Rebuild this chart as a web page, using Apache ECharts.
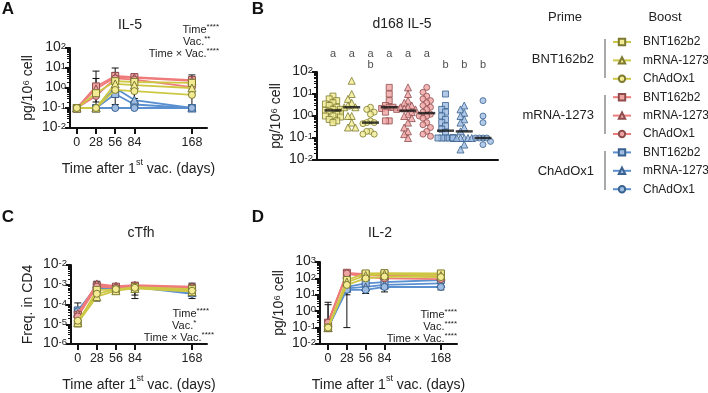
<!DOCTYPE html>
<html>
<head>
<meta charset="utf-8">
<script src="https://cdn.jsdelivr.net/npm/echarts@6/dist/echarts.min.js"></script>
<style>
html,body{margin:0;padding:0;background:#fff}
#chart{width:708px;height:393px}
</style>
</head>
<body>
<div id="chart"></div>
<script>
var days = [0, 28, 56, 84, 168]
var primes = ['BNT162b2', 'mRNA-1273', 'ChAdOx1']
var boosts = ['BNT162b2', 'mRNA-1273', 'ChAdOx1']

// medians per prime/boost group, order: BNT/BNT, BNT/mRNA, BNT/ChAd, mRNA/BNT ... ChAd/ChAd
var il5 = [
  [0.1, 0.55, 2.2, 2.0, 1.8],
  [0.1, 0.1, 1.6, 1.4, 1.0],
  [0.1, 0.1, 0.8, 0.7, 0.45],
  [0.1, 1.2, 4.0, 3.5, 2.5],
  [0.1, 0.9, 3.5, 3.2, 2.3],
  [0.1, 0.4, 3.0, 2.6, 1.1],
  [0.1, 0.1, 0.5, 0.15, 0.1],
  [0.1, 0.1, 1.0, 0.25, 0.1],
  [0.1, 0.1, 0.1, 0.1, 0.1]
]
var cTfh = [
  [1.1e-5, 5.5e-4, 5.5e-4, 7.5e-4, 6e-4],
  [1.2e-5, 2.5e-4, 5e-4, 6.5e-4, 4.5e-4],
  [1.5e-5, 3.5e-4, 6e-4, 7e-4, 5e-4],
  [3e-5, 9e-4, 8e-4, 9e-4, 7e-4],
  [3.5e-5, 1.1e-3, 8.5e-4, 9.5e-4, 8e-4],
  [2.5e-5, 8e-4, 7e-4, 8e-4, 6e-4],
  [5e-5, 8e-4, 7e-4, 8e-4, 5e-4],
  [4e-5, 9e-4, 7.5e-4, 8.5e-4, 4e-4],
  [4.5e-5, 7e-4, 6.5e-4, 7.5e-4, 3.5e-4]
]
var il2 = [
  [0.1, 80, 200, 210, 200],
  [0.1, 60, 150, 180, 150],
  [0.1, 40, 100, 130, 120],
  [0.2, 220, 180, 170, 160],
  [0.2, 180, 160, 150, 130],
  [0.2, 200, 120, 100, 90],
  [0.1, 30, 50, 60, 80],
  [0.1, 25, 30, 40, 50],
  [0.1, 20, 20, 30, 30]
]
// error bars [day, low, high]
var il5Err = [[28, 0.1, 7], [28, 0.2, 3], [56, 0.15, 10], [56, 0.4, 6], [84, 0.1, 5], [84, 0.3, 4], [168, 0.5, 4.5], [168, 0.1, 3]]
var cTfhErr = [[0, 1.5e-5, 1.2e-4], [0, 8e-6, 5e-5], [28, 1.5e-4, 1.5e-3], [28, 3e-4, 1.3e-3], [56, 3.5e-4, 1.1e-3], [56, 5e-4, 1e-3], [84, 2e-4, 1.2e-3], [84, 3e-4, 1.3e-3], [168, 2e-4, 1.2e-3], [168, 3e-4, 1e-3]]
var il2Err = [[0, 0.1, 3.5], [0, 0.15, 2.5], [28, 0.1, 200], [28, 10, 300], [56, 12, 250], [56, 20, 300], [84, 15, 280], [84, 25, 250], [168, 20, 300]]

// d168 IL-5 individual values
var d168 = [
  [8, 6, 5, 4, 3.5, 3, 2.5, 2, 2, 1.8, 1.6, 1.5, 1.2, 1, 1, 0.9, 0.7, 0.6, 0.5],
  [40, 10, 6, 4, 3, 2.5, 2.5, 1, 1, 0.5, 0.3, 0.3],
  [2.5, 2, 1.5, 1.2, 0.6, 0.5, 0.5, 0.45, 0.2, 0.2, 0.15, 0.15],
  [20, 10, 5, 3, 2.5, 2.5, 2.2, 2, 1.5, 0.6, 0.6],
  [20, 10, 5, 4, 3, 2.5, 2.5, 2.2, 2, 1.5, 1.2, 1, 0.8, 0.5, 0.3, 0.2, 0.15, 0.1],
  [20, 12, 8, 6, 5, 4, 3, 2.5, 2, 1.5, 1.2, 1, 1, 0.8, 0.5, 0.4, 0.3, 0.2, 0.15, 0.12],
  [10, 3, 2, 1.5, 1, 0.7, 0.5, 0.35, 0.25, 0.18, 0.1, 0.1, 0.1, 0.1, 0.1, 0.1, 0.1, 0.1],
  [3, 2, 1.4, 1, 0.7, 0.5, 0.3, 0.2, 0.1, 0.1, 0.1, 0.1, 0.1, 0.05, 0.03],
  [5, 1, 0.5, 0.1, 0.1, 0.1, 0.1, 0.07, 0.05]
]
var lettersTop = ['a', 'a', 'a', 'a', 'a', 'a', '', '', '']
var lettersBottom = ['', '', 'b', '', '', '', 'b', 'b', 'b']

var fills = ['#f3ec94', '#f0a3a3', '#9fbde2']
var borders = ['#7d7a30', '#8f4d4d', '#3a6290']
var lineColors = ['#cdc844', '#ef7b7b', '#5a8fd0']
var shapes = ['rect', 'triangle', 'circle']
var font = 'Liberation Sans'
var ink = '#222'

var names = []
primes.forEach(p => boosts.forEach(b => names.push(p + ' / ' + b)))

var expLabel = {
  color: ink, fontSize: 14, margin: 4, showMinLabel: true, showMaxLabel: true, hideOverlap: false,
  formatter: v => '{b|10}{s|' + Math.round(Math.log10(v)) + '}',
  rich: {
    b: {fontSize: 14, lineHeight: 13, verticalAlign: 'bottom', color: ink},
    s: {fontSize: 9.5, lineHeight: 13, verticalAlign: 'top', color: ink, padding: [0, 0, 4, 0]}
  }
}
var xName = '{n|Time after 1}{s|st}{n| vac. (days)}'
var xNameStyle = {
  color: ink,
  rich: {
    n: {fontSize: 14, lineHeight: 18, verticalAlign: 'bottom', color: ink},
    s: {fontSize: 9, lineHeight: 18, verticalAlign: 'top', color: ink}
  }
}

const logY = (gi, min, max, name, gap) => ({
  type: 'log', gridIndex: gi, min: min, max: max,
  axisLine: {show: true, onZero: false, lineStyle: {color: '#111', width: 2}},
  axisTick: {show: true, length: 5, lineStyle: {color: '#111', width: 2}},
  minorTick: {show: true, splitNumber: 9, length: 3, lineStyle: {color: '#111', width: 1}},
  splitLine: {show: false},
  axisLabel: expLabel,
  name: name, nameLocation: 'middle', nameGap: gap,
  nameTextStyle: {fontSize: 14, color: ink}
})
const dayX = (gi, min, max) => ({
  type: 'value', gridIndex: gi, min: min, max: max,
  axisLine: {onZero: false, lineStyle: {color: '#111', width: 2}},
  axisTick: {customValues: days, length: 6, lineStyle: {color: '#111', width: 2}},
  axisLabel: {customValues: days, fontSize: 12.5, color: ink, margin: 8},
  splitLine: {show: false},
  name: xName, nameLocation: 'middle', nameGap: 30, nameTextStyle: xNameStyle
})

const lineSeries = (vals, gi) => vals.map((v, k) => ({
  name: names[k], type: 'line', xAxisIndex: gi, yAxisIndex: gi,
  data: days.map((d, j) => [d, v[j]]),
  symbol: shapes[k % 3], symbolSize: k % 3 === 1 ? 8 : 7,
  lineStyle: {color: lineColors[Math.floor(k / 3)], width: 1.8},
  itemStyle: {color: fills[Math.floor(k / 3)], borderColor: borders[Math.floor(k / 3)], borderWidth: 1},
  z: 3 + (2 - Math.floor(k / 3)),
  animation: false
}))

const errSeries = (errs, gi) => ({
  type: 'custom', xAxisIndex: gi, yAxisIndex: gi, data: errs,
  encode: {x: 0, y: [1, 2]}, z: 2, animation: false,
  renderItem: (params, api) => {
    var lo = api.coord([api.value(0), api.value(1)])
    var hi = api.coord([api.value(0), api.value(2)])
    var w = 3.5, st = {stroke: '#111', lineWidth: 1}
    return {type: 'group', children: [
      {type: 'line', shape: {x1: lo[0], y1: lo[1], x2: hi[0], y2: hi[1]}, style: st},
      {type: 'line', shape: {x1: hi[0] - w, y1: hi[1], x2: hi[0] + w, y2: hi[1]}, style: st},
      {type: 'line', shape: {x1: lo[0] - w, y1: lo[1], x2: lo[0] + w, y2: lo[1]}, style: st}
    ]}
  }
})

// simple beeswarm offsets so dots of similar value sit side by side
const swarm = (vals, idx) => {
  var placed = [], d = 0.2
  return vals.slice().sort((a, b) => b - a).map(v => {
    var ly = Math.log10(v), off = 0
    for (var k = 0; k < 5; k++) {
      off = k === 0 ? 0 : Math.ceil(k / 2) * d * (k % 2 ? -1 : 1)
      if (!placed.some(p => Math.abs(p[0] - off) < d * 0.95 && Math.abs(p[1] - ly) < 0.25)) break
    }
    placed.push([off, ly])
    return [idx + off, v]
  })
}
const median = vals => {
  var s = vals.slice().sort((a, b) => a - b), m = Math.floor(s.length / 2)
  return s.length % 2 ? s[m] : (s[m - 1] + s[m]) / 2
}

var series = []
series.push(...lineSeries(il5, 0), errSeries(il5Err, 0))
series.push(...lineSeries(cTfh, 2), errSeries(cTfhErr, 2))
series.push(...lineSeries(il2, 3), errSeries(il2Err, 3))
d168.forEach((vals, k) => {
  series.push({
    name: 'd168 ' + names[k], type: 'scatter', xAxisIndex: 1, yAxisIndex: 1,
    data: swarm(vals, k), symbol: shapes[k % 3], symbolSize: k % 3 === 1 ? 7 : 6,
    itemStyle: {color: fills[Math.floor(k / 3)], borderColor: borders[Math.floor(k / 3)], borderWidth: 1},
    animation: false
  })
})
series.push({
  type: 'scatter', xAxisIndex: 1, yAxisIndex: 1, symbol: 'rect', symbolSize: [17, 2.5],
  data: d168.map((vals, k) => [k, median(vals)]), itemStyle: {color: '#111'}, z: 5, animation: false
})
series.push({
  type: 'scatter', xAxisIndex: 1, yAxisIndex: 1, symbolSize: 0, clip: false, silent: true,
  data: d168.map((vals, k) => [k, 100]), animation: false,
  label: {
    show: true, position: 'top', distance: 2, fontSize: 11, lineHeight: 11, color: ink,
    formatter: p => (lettersTop[p.dataIndex] || ' ') + '\n' + (lettersBottom[p.dataIndex] || ' ')
  }
})

const txt = (text, x, y, size, opt) => ({
  type: 'text', x: x, y: y, silent: true,
  style: Object.assign({text: text, fill: ink, font: size + 'px ' + font, textAlign: 'center', textVerticalAlign: 'middle'}, opt || {})
})
var starRich = {s: {fontSize: 8, verticalAlign: 'top', lineHeight: 12, fill: ink}, n: {fontSize: 11, verticalAlign: 'bottom', lineHeight: 12, fill: ink}}
const stat = (text, x, y, align) => txt(text, x, y, 11, {textAlign: align || 'right', rich: starRich})

var graphics = [
  txt('A', 8, 9, 17, {font: 'bold 17px ' + font, fill: '#111'}),
  txt('B', 258, 9, 17, {font: 'bold 17px ' + font, fill: '#111'}),
  txt('C', 8, 217, 17, {font: 'bold 17px ' + font, fill: '#111'}),
  txt('D', 258, 217, 17, {font: 'bold 17px ' + font, fill: '#111'}),
  txt('IL-5', 130, 25, 14),
  txt('d168 IL-5', 402, 24, 14),
  txt('cTfh', 141, 233, 14),
  txt('IL-2', 380, 233, 14),
  stat('{n|Time}{s|****}', 219, 29),
  stat('{n|Vac.}{s|**}', 183, 41, 'left'),
  stat('{n|Time × Vac.}{s|****}', 219, 53),
  stat('{n|Time}{s|****}', 209, 313),
  stat('{n|Vac.}{s|*}', 172, 325, 'left'),
  stat('{n|Time × Vac.}{s|****}', 214, 337),
  stat('{n|Time}{s|****}', 457, 314),
  stat('{n|Vac.}{s|****}', 457, 326),
  stat('{n|Time × Vac.}{s|****}', 457, 338),
  txt('Prime', 565, 17, 13),
  txt('Boost', 665, 17, 13)
]
primes.forEach((p, i) => {
  var y0 = 40 + i * 56
  graphics.push(txt(p, 594, y0 + 19, 13, {textAlign: 'right'}))
  graphics.push({type: 'line', silent: true, shape: {x1: 605, y1: y0 - 1, x2: 605, y2: y0 + 38}, style: {stroke: '#555', lineWidth: 1}})
})

var chart = echarts.init(document.getElementById('chart'))
chart.setOption({
  backgroundColor: '#fff',
  animation: false,
  textStyle: {fontFamily: font},
  grid: [
    {left: 70, top: 48, width: 137, height: 80},
    {left: 317, top: 72, width: 181, height: 88},
    {left: 71, top: 265, width: 136, height: 81},
    {left: 320, top: 262, width: 137, height: 83}
  ],
  xAxis: [
    dayX(0, -10, 190),
    {type: 'value', gridIndex: 1, min: -0.85, max: 8.8, axisLine: {onZero: false, lineStyle: {color: '#111', width: 2}},
      axisTick: {show: false}, axisLabel: {show: false}, splitLine: {show: false}},
    dayX(2, -10, 190),
    dayX(3, -12, 192)
  ],
  yAxis: [
    logY(0, 0.01, 100, 'pg/10⁶ cell', 35),
    logY(1, 0.01, 100, 'pg/10⁶ cell', 34),
    logY(2, 1e-6, 1e-2, 'Freq. in CD4', 36),
    logY(3, 0.01, 1000, 'pg/10⁶ cell', 34)
  ],
  legend: {
    data: names, orient: 'vertical', left: 612, top: 36, padding: 0,
    itemWidth: 18, itemHeight: 8, itemGap: 6.4, selectedMode: false,
    formatter: n => n.split(' / ')[1],
    textStyle: {fontSize: 12, color: ink, padding: [0, 0, 0, 7]}
  },
  graphic: graphics,
  series: series
})
</script>
</body>
</html>
